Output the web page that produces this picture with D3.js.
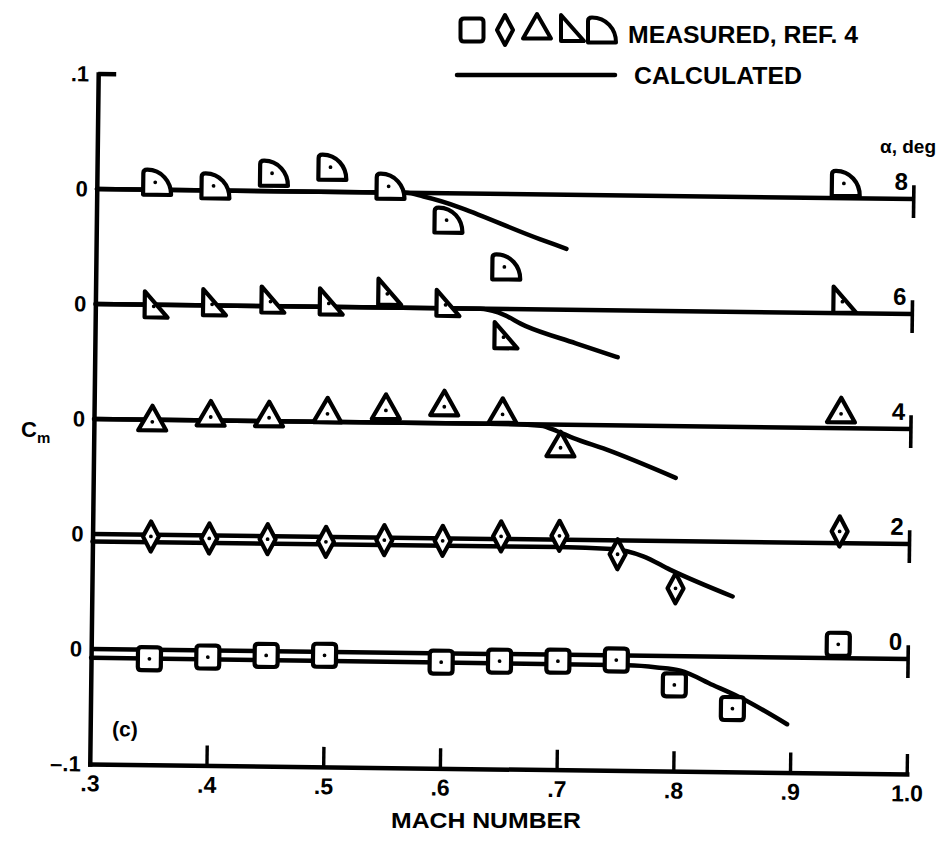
<!DOCTYPE html>
<html><head><meta charset="utf-8">
<script src="https://cdn.jsdelivr.net/npm/d3@7"></script>
<style>
body{margin:0;background:#fff}
text{font-family:"Liberation Sans",Arial,sans-serif;font-weight:bold;fill:#000}
</style>
</head><body>
<svg id="chart" width="943" height="844"></svg>
<script>
// ---------- data ----------
const alphas = [0, 2, 4, 6, 8];
const curveOffsets = [0, 0.1, 0.2, 0.3, 0.4];

const mach0 = [0.35, 0.40, 0.45, 0.50, 0.60, 0.65, 0.70, 0.75, 0.80, 0.85, 0.94];
const cm0   = [-0.0079, -0.0058, -0.0037, -0.0030, -0.0077, -0.0062, -0.0056, -0.0040, -0.0250, -0.0450, 0.0120];
const mach2 = [0.35, 0.40, 0.45, 0.50, 0.55, 0.60, 0.65, 0.70, 0.75, 0.80, 0.94];
const cm2   = [-0.0015, -0.0026, -0.0026, -0.0043, -0.0022, -0.0022, 0.0023, 0.0034, -0.0120, -0.0410, 0.0102];
const mach4 = [0.35, 0.40, 0.45, 0.50, 0.55, 0.60, 0.65, 0.70, 0.94];
const cm4   = [-0.0018, 0.0030, 0.0030, 0.0070, 0.0106, 0.0144, 0.0084, -0.0200, 0.0125];
const mach6 = [0.35, 0.40, 0.45, 0.50, 0.55, 0.60, 0.65, 0.94];
const cm6   = [-0.0014, 0.0010, 0.0040, 0.0030, 0.0120, 0.0030, -0.0245, 0.0100];
const mach8 = [0.35, 0.40, 0.45, 0.50, 0.55, 0.60, 0.65, 0.94];
const cm8   = [0.0065, 0.0040, 0.0156, 0.0215, 0.0055, -0.0233, -0.0634, 0.0128];

const calcMach0 = [0.30, 0.60, 0.76, 0.785, 0.805, 0.833, 0.856, 0.897];
const calcCm0   = [-0.0076, -0.0080, -0.0085, -0.0100, -0.0125, -0.0247, -0.0350, -0.0580];
const calcMach2 = [0.30, 0.70, 0.745, 0.772, 0.795, 0.849];
const calcCm2   = [-0.0065, -0.0063, -0.0075, -0.0135, -0.0248, -0.0475];
const calcMach4 = [0.30, 0.66, 0.683, 0.697, 0.711, 0.739, 0.799];
const calcCm4   = [0.0, 0.0, -0.0010, -0.0057, -0.0115, -0.0210, -0.0450];
const calcMach6 = [0.30, 0.63, 0.645, 0.669, 0.712, 0.748];
const calcCm6   = [0.0, 0.0, -0.0030, -0.0146, -0.0290, -0.0407];
const calcMach8 = [0.30, 0.565, 0.58, 0.68, 0.703];
const calcCm8   = [0.0, 0.0, -0.0030, -0.0388, -0.0470];

const xTicks = [0.3, 0.4, 0.5, 0.6, 0.7, 0.8, 0.9, 1.0];
const xTickLabels = [".3", ".4", ".5", ".6", ".7", ".8", ".9", "1.0"];
const yTicks = [-0.1, 0, 0.1, 0.2, 0.3, 0.4, 0.5];
const yTickLabels = ["\u2013.1", "0", "0", "0", "0", "0", ".1"];
const legendLabels = ["MEASURED, REF. 4", "CALCULATED"];

// ---------- setup ----------
const measured = {0:[mach0,cm0], 2:[mach2,cm2], 4:[mach4,cm4], 6:[mach6,cm6], 8:[mach8,cm8]};
const calculated = {0:[calcMach0,calcCm0], 2:[calcMach2,calcCm2], 4:[calcMach4,calcCm4], 6:[calcMach6,calcCm6], 8:[calcMach8,calcCm8]};

const svg = d3.select("#chart");
const x = d3.scaleLinear().domain([0.3, 1.0]).range([94, 911]);
const y = d3.scaleLinear().domain([-0.1, 0.5]).range([769, 79]);
const LW = 4.5;

// marker shapes (relative to data point)
const shapes = {
  0: "M-11.5,-8Q-11.5,-11.5 -8,-11.5L8,-11.5Q11.5,-11.5 11.5,-8L11.5,8Q11.5,11.5 8,11.5L-8,11.5Q-11.5,11.5 -11.5,8Z",
  2: "M0,-15L8,0L0,15L-8,0Z",
  4: "M0,-16L14,8.5L-14,8.5Z",
  6: "M-9,-15L14,11L-9,11Z",
  8: "M-12,12.5L-12,-9Q-12,-12.5 -8,-12.5C6,-12.5 16,-1 16,12.5Z"
};

function drawMarker(sel, a, px, py) {
  sel.append("path").attr("d", shapes[a])
    .attr("transform", `translate(${px},${py})`)
    .attr("fill", "#fff").attr("stroke", "#000")
    .attr("stroke-width", 4.2).attr("stroke-linejoin", "round");
  sel.append("circle").attr("cx", px).attr("cy", py).attr("r", 1.9).attr("fill", "#000");
}

const g = svg.append("g").attr("transform", "rotate(0.7,500,420)");

// x axis (ticks pointing up)
const xAxis = d3.axisBottom(x).tickValues(xTicks)
  .tickFormat((d, i) => xTickLabels[i]).tickSizeInner(-20).tickSizeOuter(0).tickPadding(11);
const xa = g.append("g").attr("transform", `translate(0,${y(-0.1)})`).call(xAxis);
xa.select(".domain").attr("stroke-width", LW).attr("stroke-linecap", "square");
xa.selectAll(".tick line").attr("stroke-width", 3.4)
  .attr("opacity", d => d === 0.3 ? 0 : 1);
xa.selectAll(".tick text").attr("font-size", 23).attr("font-family", null);

// y axis
const yAxis = d3.axisLeft(y).tickValues(yTicks)
  .tickFormat((d, i) => yTickLabels[i]).tickSize(0).tickPadding(9);
const ya = g.append("g").attr("transform", `translate(${x(0.3)},0)`).call(yAxis);
ya.select(".domain").attr("stroke-width", LW).attr("stroke-linecap", "square");
ya.selectAll(".tick text").attr("font-size", 22).attr("font-family", null);
g.append("line").attr("x1", x(0.3)).attr("x2", x(0.3) + 18)
  .attr("y1", y(0.5)).attr("y2", y(0.5)).attr("stroke", "#000").attr("stroke-width", LW);

// curves
const line = d3.line().curve(d3.curveMonotoneX);
alphas.forEach((a, i) => {
  const off = curveOffsets[i];
  g.append("line").attr("x1", x(0.3)).attr("x2", x(1.0))
    .attr("y1", y(off)).attr("y2", y(off)).attr("stroke", "#000").attr("stroke-width", LW);
  g.append("line").attr("x1", x(1.0)).attr("x2", x(1.0))
    .attr("y1", y(off + 0.012)).attr("y2", y(off - 0.0165)).attr("stroke", "#000").attr("stroke-width", 3.6);
  g.append("text").attr("x", x(1.0) - 6).attr("y", y(off) - 9)
    .attr("text-anchor", "end").attr("font-size", 24).text(a);
  const [cm, cc] = calculated[a];
  const pts = cm.map((m, k) => [x(m), y(off + cc[k])]);
  g.append("path").attr("d", line(pts)).attr("fill", "none").attr("stroke", "#000")
    .attr("stroke-width", LW).attr("stroke-linecap", "round");
});
alphas.forEach((a, i) => {
  const off = curveOffsets[i];
  const [mm, mc] = measured[a];
  mm.forEach((m, k) => drawMarker(g, a, x(m), y(off + mc[k])));
});

g.append("text").attr("x", 116).attr("y", y(-0.1) - 28).attr("font-size", 21).text("(c)");

// labels outside rotated frame
svg.append("text").attr("x", 936).attr("y", 153).attr("text-anchor", "end")
  .attr("font-size", 19).text("\u03b1, deg");
const cmLab = svg.append("text").attr("x", 21).attr("y", 437).attr("font-size", 22);
cmLab.append("tspan").text("C");
cmLab.append("tspan").attr("font-size", 15).attr("dy", 6).text("m");
svg.append("text").attr("x", 486).attr("y", 828).attr("text-anchor", "middle")
  .attr("font-size", 22).attr("textLength", 190).attr("lengthAdjust", "spacingAndGlyphs").text("MACH NUMBER");

// legend
const legX = [472, 505, 537, 570, 600];
alphas.forEach((a, i) => {
  svg.append("path").attr("d", shapes[a])
    .attr("transform", `translate(${legX[i]},30)`)
    .attr("fill", "#fff").attr("stroke", "#000").attr("stroke-width", 4).attr("stroke-linejoin", "round");
});
svg.append("text").attr("x", 628).attr("y", 43).attr("font-size", 23)
  .attr("textLength", 230).attr("lengthAdjust", "spacingAndGlyphs").text(legendLabels[0]);
svg.append("line").attr("x1", 457).attr("x2", 615).attr("y1", 75).attr("y2", 75)
  .attr("stroke", "#000").attr("stroke-width", LW).attr("stroke-linecap", "round");
svg.append("text").attr("x", 634).attr("y", 84).attr("font-size", 23)
  .attr("textLength", 168).attr("lengthAdjust", "spacingAndGlyphs").text(legendLabels[1]);
</script>
</body></html>
